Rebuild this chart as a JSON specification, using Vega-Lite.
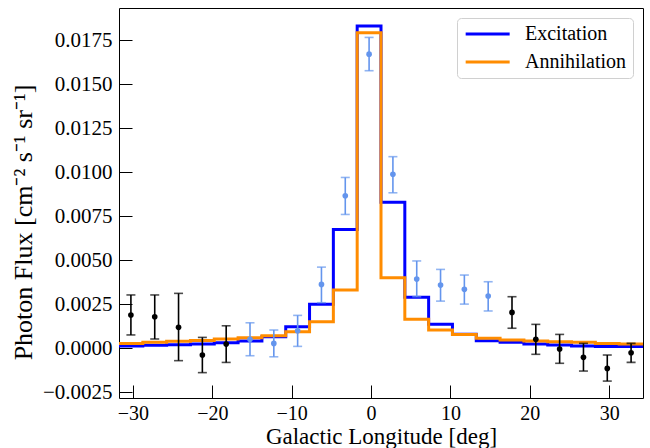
{
  "$schema": "https://vega.github.io/schema/vega-lite/v6.json",
  "autosize": "none",
  "width": 524,
  "height": 390,
  "padding": {"left": 119, "top": 8, "right": 7, "bottom": 50},
  "background": "white",
  "config": {
    "view": {"stroke": "#000", "strokeWidth": 1},
    "font": "Liberation Serif",
    "axis": {
      "labelFont": "Liberation Serif",
      "labelFontSize": 21,
      "labelColor": "#000",
      "titleFont": "Liberation Serif",
      "titleFontSize": 23,
      "titleFontWeight": "normal",
      "titleColor": "#000",
      "tickColor": "#000",
      "tickSize": -13,
      "tickWidth": 1,
      "labelPadding": 20,
      "domain": false,
      "grid": false
    },
    "legend": {
      "labelFont": "Liberation Serif",
      "labelFontSize": 20,
      "labelColor": "#000"
    }
  },
  "datasets": {
    "model": [
      {"lon": -31.75, "flux": 0.00013, "model": "Excitation"},
      {"lon": -28.75, "flux": 0.00017, "model": "Excitation"},
      {"lon": -25.75, "flux": 0.00021, "model": "Excitation"},
      {"lon": -22.75, "flux": 0.00024, "model": "Excitation"},
      {"lon": -19.75, "flux": 0.00032, "model": "Excitation"},
      {"lon": -16.75, "flux": 0.00041, "model": "Excitation"},
      {"lon": -13.75, "flux": 0.00066, "model": "Excitation"},
      {"lon": -10.75, "flux": 0.00123, "model": "Excitation"},
      {"lon": -7.75, "flux": 0.0025, "model": "Excitation"},
      {"lon": -4.75, "flux": 0.00675, "model": "Excitation"},
      {"lon": -1.75, "flux": 0.0183, "model": "Excitation"},
      {"lon": 1.25, "flux": 0.00829, "model": "Excitation"},
      {"lon": 4.25, "flux": 0.0029, "model": "Excitation"},
      {"lon": 7.25, "flux": 0.00136, "model": "Excitation"},
      {"lon": 10.25, "flux": 0.0008, "model": "Excitation"},
      {"lon": 13.25, "flux": 0.00043, "model": "Excitation"},
      {"lon": 16.25, "flux": 0.00034, "model": "Excitation"},
      {"lon": 19.25, "flux": 0.00024, "model": "Excitation"},
      {"lon": 22.25, "flux": 0.00019, "model": "Excitation"},
      {"lon": 25.25, "flux": 0.00013, "model": "Excitation"},
      {"lon": 28.25, "flux": 0.0001, "model": "Excitation"},
      {"lon": 31.25, "flux": 0.0001, "model": "Excitation"},
      {"lon": 34.25, "flux": 0.0001, "model": "Excitation"},
      {"lon": -31.75, "flux": 0.00028, "model": "Annihilation"},
      {"lon": -28.75, "flux": 0.00034, "model": "Annihilation"},
      {"lon": -25.75, "flux": 0.0004, "model": "Annihilation"},
      {"lon": -22.75, "flux": 0.00045, "model": "Annihilation"},
      {"lon": -19.75, "flux": 0.00053, "model": "Annihilation"},
      {"lon": -16.75, "flux": 0.0006, "model": "Annihilation"},
      {"lon": -13.75, "flux": 0.00072, "model": "Annihilation"},
      {"lon": -10.75, "flux": 0.00094, "model": "Annihilation"},
      {"lon": -7.75, "flux": 0.00151, "model": "Annihilation"},
      {"lon": -4.75, "flux": 0.00331, "model": "Annihilation"},
      {"lon": -1.75, "flux": 0.01791, "model": "Annihilation"},
      {"lon": 1.25, "flux": 0.00401, "model": "Annihilation"},
      {"lon": 4.25, "flux": 0.00165, "model": "Annihilation"},
      {"lon": 7.25, "flux": 0.00104, "model": "Annihilation"},
      {"lon": 10.25, "flux": 0.00078, "model": "Annihilation"},
      {"lon": 13.25, "flux": 0.00057, "model": "Annihilation"},
      {"lon": 16.25, "flux": 0.00047, "model": "Annihilation"},
      {"lon": 19.25, "flux": 0.00041, "model": "Annihilation"},
      {"lon": 22.25, "flux": 0.00038, "model": "Annihilation"},
      {"lon": 25.25, "flux": 0.00034, "model": "Annihilation"},
      {"lon": 28.25, "flux": 0.00028, "model": "Annihilation"},
      {"lon": 31.25, "flux": 0.00024, "model": "Annihilation"},
      {"lon": 34.25, "flux": 0.00024, "model": "Annihilation"}
    ],
    "obs": [
      {"lon": -30.25, "flux": 0.00189, "lo": 0.00076, "hi": 0.00303, "region": "outer"},
      {"lon": -27.25, "flux": 0.00179, "lo": 0.00053, "hi": 0.00303, "region": "outer"},
      {"lon": -24.25, "flux": 0.00119, "lo": -0.0007, "hi": 0.00312, "region": "outer"},
      {"lon": -21.25, "flux": -0.00038, "lo": -0.00138, "hi": 0.00062, "region": "outer"},
      {"lon": -18.25, "flux": 0.00024, "lo": -0.0008, "hi": 0.00128, "region": "outer"},
      {"lon": -15.25, "flux": 0.00051, "lo": -0.00042, "hi": 0.00145, "region": "inner"},
      {"lon": -12.25, "flux": 0.00028, "lo": -0.00048, "hi": 0.00104, "region": "inner"},
      {"lon": -9.25, "flux": 0.001, "lo": 0.00011, "hi": 0.00187, "region": "inner"},
      {"lon": -6.25, "flux": 0.00363, "lo": 0.00259, "hi": 0.00461, "region": "inner"},
      {"lon": -3.25, "flux": 0.00866, "lo": 0.0076, "hi": 0.0097, "region": "inner"},
      {"lon": -0.25, "flux": 0.0167, "lo": 0.01576, "hi": 0.01765, "region": "inner"},
      {"lon": 2.75, "flux": 0.00988, "lo": 0.00883, "hi": 0.01088, "region": "inner"},
      {"lon": 5.75, "flux": 0.00393, "lo": 0.00293, "hi": 0.00496, "region": "inner"},
      {"lon": 8.75, "flux": 0.00359, "lo": 0.00268, "hi": 0.00448, "region": "inner"},
      {"lon": 11.75, "flux": 0.00335, "lo": 0.00251, "hi": 0.00416, "region": "inner"},
      {"lon": 14.75, "flux": 0.00297, "lo": 0.00212, "hi": 0.00378, "region": "inner"},
      {"lon": 17.75, "flux": 0.00204, "lo": 0.00114, "hi": 0.00293, "region": "outer"},
      {"lon": 20.75, "flux": 0.00051, "lo": -0.00034, "hi": 0.00136, "region": "outer"},
      {"lon": 23.75, "flux": -0.00004, "lo": -0.00085, "hi": 0.00079, "region": "outer"},
      {"lon": 26.75, "flux": -0.00051, "lo": -0.00129, "hi": 0.00028, "region": "outer"},
      {"lon": 29.75, "flux": -0.00114, "lo": -0.00186, "hi": -0.00038, "region": "outer"},
      {"lon": 32.75, "flux": -0.00025, "lo": -0.0008, "hi": 0.00028, "region": "outer"}
    ]
  },
  "encoding": {
    "x": {
      "field": "lon", "type": "quantitative",
      "scale": {"domain": [-31.75, 34.25], "nice": false, "zero": false},
      "axis": {
        "title": "Galactic Longitude [deg]",
        "values": [-30, -20, -10, 0, 10, 20, 30],
        "labelFontSize": 20,
        "labelPadding": 18,
        "titleX": 262,
        "titleY": 45,
        "titleBaseline": "alphabetic"
      }
    }
  },
  "layer": [
    {
      "data": {"name": "model"},
      "mark": {"type": "line", "interpolate": "step-after", "strokeWidth": 3, "clip": true},
      "encoding": {
        "y": {
          "field": "flux", "type": "quantitative",
          "title": "Photon Flux [cm⁻² s⁻¹ sr⁻¹]",
          "scale": {"domain": [-0.00282, 0.01932], "nice": false, "zero": false},
          "axis": {
            "values": [-0.0025, 0, 0.0025, 0.005, 0.0075, 0.01, 0.0125, 0.015, 0.0175],
            "format": ".4f",
            "titleX": -88,
            "titleY": 214,
            "titleFontSize": 26,
            "titleBaseline": "alphabetic"
          }
        },
        "color": {
          "field": "model", "type": "nominal",
          "scale": {"domain": ["Excitation", "Annihilation"], "range": ["#0000ff", "#ff8c00"]},
          "legend": {
            "title": null,
            "orient": "top-right",
            "offset": 10,
            "symbolType": "M-1,0H5",
            "symbolSize": 215,
            "symbolStrokeWidth": 3,
            "labelOffset": 42,
            "rowPadding": 8,
            "padding": 6,
            "strokeColor": "#d0d0d0",
            "fillColor": "rgba(255,255,255,0.8)",
            "cornerRadius": 4
          }
        },
        "order": {"field": "lon", "type": "quantitative"}
      }
    },
    {
      "data": {"name": "obs"},
      "mark": {"type": "errorbar", "ticks": {"size": 9}, "thickness": 1.6},
      "encoding": {
        "y": {"field": "lo", "type": "quantitative", "title": "Photon Flux [cm⁻² s⁻¹ sr⁻¹]"},
        "y2": {"field": "hi"},
        "color": {
          "field": "region", "type": "nominal",
          "scale": {"domain": ["outer", "inner"], "range": ["#000000", "#6495ed"]},
          "legend": null
        }
      }
    },
    {
      "data": {"name": "obs"},
      "mark": {"type": "circle", "size": 32, "opacity": 1},
      "encoding": {
        "y": {"field": "flux", "type": "quantitative", "title": "Photon Flux [cm⁻² s⁻¹ sr⁻¹]"},
        "color": {
          "field": "region", "type": "nominal",
          "scale": {"domain": ["outer", "inner"], "range": ["#000000", "#6495ed"]},
          "legend": null
        }
      }
    }
  ],
  "resolve": {"scale": {"color": "independent"}}
}
